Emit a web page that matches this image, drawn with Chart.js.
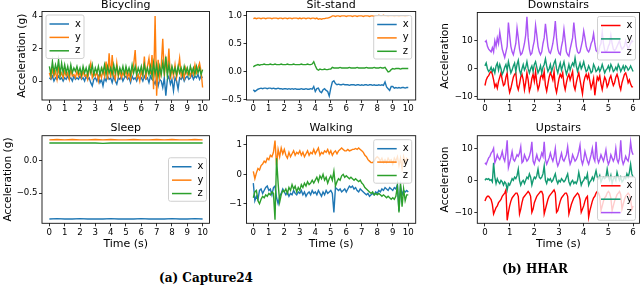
<!DOCTYPE html>
<html><head><meta charset="utf-8">
<script src="https://cdn.jsdelivr.net/npm/chart.js@4/dist/chart.umd.min.js"></script>
<style>
html,body{margin:0;padding:0;background:#fff;width:640px;height:287px;overflow:hidden;position:relative;}
canvas{position:absolute;}
.cap{position:absolute;width:200px;text-align:center;font:bold 12px "DejaVu Serif";line-height:14px;color:#000;}
</style></head><body>
<canvas id="c1"></canvas><canvas id="c2"></canvas><canvas id="c3"></canvas>
<canvas id="c4"></canvas><canvas id="c5"></canvas><canvas id="c6"></canvas>
<div class="cap" style="left:106px;top:271px">(a) Capture24</div>
<div class="cap" style="left:435px;top:262px">(b) HHAR</div>
<script>
// ---------- data ----------
const capTimes = Array.from({length:101},(_,i)=>i/10);   // 0..10 s
const hharTimes = Array.from({length:121},(_,i)=>i/20);  // 0..6 s
const sleepTimes = Array.from({length:21},(_,i)=>i/2);   // 0..10 s

const bicX = [0.2,0.1,0.3,0.0,0.2,0.1,0.3,0.1,0.2,0.0, 0.2,0.1,0.3,0.1,0.2,0.0,0.3,0.1,0.2,0.1, 0.3,0.1,0.2,0.0,0.3,0.1,0.2,-0.1,-0.3,0.1, 0.2,0.0,0.3,-0.1,0.1,-0.3,0.2,0.0,0.3,0.1, 0.2,-0.1,0.3,0.0,-0.2,0.2,0.1,0.3,0.0,0.2, 0.3,0.1,0.2,-0.1,0.3,0.1,0.2,0.0,0.3,0.1, 0.2,0.0,0.3,0.1,0.2,-0.1,0.3,0.1,0.0,-0.2, 0.2,-0.3,0.1,0.0,-0.4,0.2,-0.9,0.1,0.3,-0.2, 0.1,-0.6,0.2,0.0,-0.5,0.2,0.1,0.3,0.0,0.2, 0.3,0.1,0.2,0.4,0.1,0.3,0.2,0.4,0.1,0.3,0.2];
const bicY = [0.5,0.2,0.7,0.3,0.6,0.1,0.8,0.3,0.5,0.2, 0.6,0.3,0.5,0.1,0.7,0.3,0.4,0.2,0.6,0.3, 0.5,0.2,0.6,0.3,0.4,0.1,0.7,1.1,0.2,0.5, 0.3,0.6,0.0,0.5,0.2,0.7,0.3,1.2,0.1,1.7, 0.2,1.6,0.4,0.1,1.1,0.3,0.6,0.2,0.5,0.3, 0.7,0.2,0.5,0.1,0.6,1.0,1.9,0.2,0.4,0.0, 0.6,0.3,1.5,0.1,0.9,1.4,0.4,1.6,-0.5,4.0, -0.9,1.3,0.2,0.9,2.6,0.3,1.3,0.5,2.0,0.1, 0.8,0.3,1.0,0.2,0.7,1.4,0.3,0.6,0.2,0.8, 0.4,0.6,0.3,0.7,0.4,1.0,0.5,0.8,1.1,0.6,-0.4];
const bicZ = [0.9,0.4,1.2,0.5,1.0,0.6,1.3,0.4,1.1,0.5, 1.0,0.5,0.9,0.4,1.0,0.5,0.8,0.6,0.9,0.5, 0.8,0.4,0.9,0.5,0.8,0.4,0.9,0.5,1.0,0.4, 0.8,0.5,0.9,0.4,0.8,0.5,1.0,0.4,0.9,0.5, 0.8,0.4,1.0,0.5,0.9,0.4,0.8,0.5,0.9,0.4, 0.9,0.5,0.8,0.4,1.0,0.5,0.9,0.4,0.8,0.5, 0.9,0.4,1.0,0.5,0.8,0.4,0.9,0.3,1.1,0.4, 1.0,0.3,0.9,0.4,1.1,0.5,1.5,0.3,1.0,0.4, 0.9,0.5,0.8,0.4,0.9,0.5,0.8,0.4,0.9,0.5, 0.8,0.4,0.9,0.5,0.8,0.4,0.9,0.5,0.8,0.4,0.7];

const sitX = [-.33,-.36,-.34,-.32,-.31,-.30,-.31,-.30,-.30,-.31, -.30,-.30,-.31,-.30,-.31,-.31,-.30,-.31,-.31,-.32, -.31,-.31,-.32,-.31,-.32,-.31,-.32,-.31,-.32,-.32, -.32,-.31,-.32,-.32,-.31,-.32,-.32,-.31,-.32,-.27, -.36,-.31,-.30,-.36,-.38,-.33,-.31,-.34,-.36,-.44, -.30,-.19,-.17,-.22,-.24,-.23,-.24,-.24,-.23,-.24, -.24,-.24,-.25,-.24,-.24,-.24,-.25,-.24,-.24,-.25, -.24,-.25,-.24,-.24,-.25,-.24,-.24,-.25,-.24,-.25, -.25,-.24,-.25,-.24,-.25,-.19,-.28,-.31,-.34,-.27, -.27,-.30,-.29,-.30,-.29,-.30,-.29,-.29,-.30,-.29,-.29];
const sitY = [.94,.95,.94,.95,.95,.94,.95,.95,.94,.95, .95,.95,.94,.95,.95,.95,.94,.95,.95,.94, .95,.95,.94,.95,.95,.94,.95,.95,.95,.94, .95,.94,.95,.95,.94,.95,.95,.94,.95,.95, .94,.95,.93,.94,.93,.94,.94,.95,.95,.96, .97,.99,.99,.98,.99,.99,.98,.99,.99,.99, .98,.99,.99,.99,.98,.99,.99,.98,.99,.99, .99,.98,.99,.99,.99,.98,.99,.99,.98,.99, .99,1.0,.99,.99,1.0,.99,.99,.98,.99,.99, .99,.98,.99,.99,.98,.99,.99,.99,.98,.99,.99];
const sitZ = [.08,.10,.11,.12,.11,.12,.12,.13,.12,.12, .12,.13,.12,.12,.13,.12,.12,.12,.13,.12, .12,.12,.13,.12,.12,.12,.13,.12,.12,.12, .12,.13,.12,.12,.12,.13,.12,.12,.13,.17, .10,.04,.02,.04,.03,.03,.04,.03,.03,.04, .04,.07,.06,.06,.06,.06,.07,.06,.06,.06, .06,.06,.07,.06,.06,.06,.06,.07,.06,.06, .06,.06,.06,.07,.06,.06,.06,.06,.07,.06, .06,.06,.07,.06,.06,.07,.03,-.01,.00,.03, .05,.04,.05,.05,.05,.04,.05,.05,.05,.05,.05];

const sleepX = [-.905,-.90,-.905,-.905,-.90,-.905,-.905,-.905,-.90,-.905,-.905,-.905,-.90,-.905,-.905,-.905,-.90,-.905,-.905,-.90,-.905];
const sleepY = [.33,.335,.33,.335,.33,.33,.335,.33,.335,.33,.33,.335,.33,.33,.335,.33,.335,.33,.33,.335,.33];
const sleepZ = [.28,.28,.28,.28,.28,.28,.28,.275,.28,.28,.28,.28,.28,.28,.28,.28,.28,.28,.28,.28,.28];

const walkX = [-0.3,-0.9,-0.75,-0.85,-0.55,-0.5,-0.65,-0.55,-0.45,-0.4, -0.55,-0.5,-0.7,-0.45,-0.4,-0.8,-1.0,-0.75,-0.65,-0.5, -0.6,-0.7,-0.6,-0.75,-0.65,-0.7,-0.55,-0.65,-0.7,-0.6, -0.65,-0.55,-0.7,-0.6,-0.75,-0.65,-0.6,-0.7,-0.55,-0.65, -0.6,-0.7,-0.55,-0.65,-0.75,-0.6,-0.7,-0.55,-0.65,-0.6, -0.55,-0.65,-1.3,-0.45,-0.5,-0.55,-0.5,-0.6,-0.55,-0.5, -0.6,-0.5,-0.4,-0.45,-0.4,-0.5,-0.45,-0.55,-0.6,-0.5, -0.55,-0.6,-0.65,-0.7,-0.65,-0.75,-0.7,-0.65,-0.7,-0.6, -0.65,-0.55,-0.6,-0.5,-0.55,-0.45,-0.5,-0.55,-0.45,-0.5, -0.55,-0.45,-0.5,-0.35,-1.25,-0.4,-0.7,-0.55,-0.6,-0.55, -0.6];
const walkY = [0.1,-0.15,0.05,0.2,0.15,0.3,0.35,0.45,0.4,0.55, 0.5,0.65,0.6,0.75,1.15,0.3,0.85,0.6,0.9,0.7, 0.85,0.65,0.55,0.75,0.6,0.7,0.8,0.65,0.75,0.7, 0.8,0.65,0.75,0.6,0.7,0.8,0.65,0.75,0.7,0.85, 0.7,0.8,0.9,0.65,0.75,0.7,0.8,0.75,0.85,0.7, 0.8,0.65,0.75,0.8,0.7,0.8,0.85,0.9,0.85,0.8, 0.8,0.85,0.8,0.82,0.85,0.85,0.88,0.85,0.9,0.85, 0.8,0.75,0.65,0.6,0.5,0.45,0.4,0.4,0.45,0.55, 0.6,0.55,0.45,0.55,0.4,0.5,0.4,0.55,0.45,0.5, 0.35,0.55,0.45,0.6,0.3,0.55,0.2,0.6,0.4,0.55, 0.5];
const walkZ = [-0.8,-0.6,-0.55,-0.9,-1.0,-0.85,-0.75,-0.8,-0.7,-0.75, -0.65,-0.7,-0.6,-0.65,-1.55,0.55,-0.3,-0.95,-0.7,-0.55, -0.6,-0.5,-0.65,-0.45,-0.55,-0.35,-0.5,-0.4,-0.6,-0.45, -0.55,-0.35,-0.45,-0.3,-0.4,-0.25,-0.35,-0.3,-0.2,-0.3, -0.2,-0.1,-0.25,-0.05,-0.15,0.0,-0.2,-0.1,-0.3,-0.15, -0.05,-0.2,0.1,-0.4,-0.25,-0.15,-0.2,-0.05,0.0,-0.1, -0.05,-0.1,-0.15,-0.1,-0.15,-0.2,-0.15,-0.2,-0.25,-0.2, -0.3,-0.35,-0.45,-0.5,-0.55,-0.6,-0.65,-0.6,-0.7,-0.65, -0.7,-0.65,-0.7,-0.75,-0.7,-0.75,-0.8,-0.75,-0.8,-0.85, -0.8,-0.85,-0.75,-0.4,-1.3,-0.3,-1.1,-0.5,-0.9,-0.7, -0.7];

const downX = [-6,-4,-3,-2.5,-1.5,-1,-2,-4,-6.5,-5.5, -7,-4.5,-3,-1.5,-4,-6,-5.5,-3,-1.5,-6, -8.5,-7,-5,-3,-2,-1.5,-6,-7.5,-5.5,-3, -2,-4,-7.5,-5,-1.5,-4,-8,-6.5,-3.5,-2, -4.5,-1,-5,-7.5,-6,-3,-2,-3.5,-1,-6, -8,-5.5,-3,-1.5,-2.5,-4,-1,-6.5,-8.5,-6, -3.5,-2,-3,-1.5,-5.5,-7.5,-5,-3,-2,-4, -2.5,-1,-6,-7.5,-5,-3,-1.5,-4,-6.5,-9, -5,-3,-2,-3.5,-2,-4.5,-7,-5.5,-3.5,-9.5, -6,-3,-4,-2.5,-5.5,-7.5,-5,-3,-4,-6.5, -5.5,-3.5,-2.5,-4.5,-6,-5,-3,-2,-3.5,-6, -7.5,-5,-3.5,-2,-1.5,-3,-5,-4,-5.5,-6.5, -6.5];
const downY = [1,2,0,-1,-0.5,0.5,-1,0,-1.5,1, 2,-0.5,1.5,0,-2,-1,0.5,1.5,-0.5,2.5, 0.5,-1.5,-0.5,1,2,-1,1.5,3,-0.5,-2, 0,1.5,-0.5,0.5,2.5,0,-1.5,0,1,-1, 1.5,2.5,0.5,-1.5,-0.5,1,-1.5,0.5,1.5,3.5, 1,-1,0,1.5,-1,0.5,2,3,0,-1.5, 0.5,2,-0.5,1,2.5,0,-2,-0.5,1.5,-0.5, 1,2,1,3.8,1,-1,0.5,2,0,1, 2.5,0.5,-1,-0.5,1,0,-1.5,-1,1.5,0.5, -1,-0.5,0.5,-1,0,1.5,0,-1.5,-0.5,0, 1,-0.5,1.5,0.5,-1,-0.5,0.5,-0.5,1.5,0.5, -1,0,1,-0.5,1,0.5,-0.5,0,1,0, -1];
const downZ = [9.5,10,8,7,6.5,6,7.5,6,10,8, 11,9,13,10,7,5.5,4,6,8,16.5, 12,8,6,5,7,9,14.5,11,7,5, 5.5,7,9,12,18.5,11,7,5,5.5,8, 10,15.5,12,8,6,5,6,9,11,16, 12,8,6,5.5,7,9,12,17,11,7, 5.5,5,8,10,14,10,6,5,4.5,7, 9,11,16.5,12,8,6,5.5,6,8,10, 13.5,11,8,6.5,6,7,9,10,12.5,9, 6.5,6,5.5,8,9,13,9,6.5,6,6.5, 8,9,12,9,7,6.5,7,8,9,10, 8,7,7.5,8,10,8.5,7,8,9,10, 9.5];

const upX = [-6.5,-5.5,-5,-5,-5.5,-6,-7.5,-10.5,-9.5,-8.5, -8,-7,-6.5,-6,-5,-4.5,-4,-3,-12.5,-10, -8,-6.5,-5.5,-5,-4.5,-4,-4,-5,-10.5,-9, -7,-5.5,-5,-4.5,-4,-3.5,-4,-5,-10,-9, -7,-6,-5,-4.5,-4,-3.5,-3.5,-4.5,-10.5,-9, -7.5,-6,-5,-4.5,-4,-3.5,-3,-4,-10,-9.5, -8,-6.5,-5.5,-5,-4.5,-4,-4,-5,-10.5,-9, -7.5,-6.5,-5.5,-5,-4.5,-4,-4.5,-6,-10,-9, -8,-6.5,-5.5,-5,-11.5,-9.5,-8,-6.5,-5.5,-5, -4,-3.5,-4,-5,-9.5,-8,-6.5,-5.5,-5,-4, -3.5,-4,-5.5,-9.5,-8,-6.5,-5.5,-4.5,-4,-3.5, -4.5,-9,-7.5,-6,-5,-4.5,-4,-4.5,-6,-9, -8];
const upY = [0,0.5,0.3,0.5,0,0.2,-0.5,5.5,1,-1, 0.5,-0.5,-1,0,-0.5,-1.5,-0.5,-1,-3,-1, -1.5,-0.5,0.5,0,1,0.5,1.5,3.5,0,-1.5, -0.5,0,-1,0,1,0.5,2,1,-1.5,0, 1,0.5,1.5,3.5,1,0.5,1,2,4.5,0, -1,0.5,0,0.5,-0.5,0,1,2,0,-1, 0,-0.5,0.5,0,-0.5,0,1,2,-0.5,-1.5, -0.5,0,-1,-0.5,-1,0,2.5,0.5,-1.5,-0.5, 0,1,0.5,2,-1.5,-0.5,0,1,0,1.5, 3,1,0.5,1.5,-0.5,0.5,1,0.5,1,3.5, 1,0,1.5,-1,0.5,1,0,2.5,1,0, 1,-0.5,0,1,0.5,2,1,2.5,5,2, 1];
const upZ = [5.5,5,6,7,7.5,8.5,9,10,5.5,6.5, 8,7,6.5,7.5,9,7,6,8.5,12.5,4, 5.5,7,9,6.5,6,7,8,7.5,8.5,10.5, 5.5,6,8,7,6,6.5,7.5,9,12,6, 5,6.5,8,6.5,6,7,8.5,7.5,12,6.5, 5,6,7,8.5,7,6,7.5,10,6,4.5, 5.5,7,8.5,6.5,6,7,8,10.5,7,5, 6,8,7,6,6.5,7.5,9,11,6.5,5, 6.5,9,7.5,6,5,6.5,8,10,7,6, 12,7,5.5,6.5,8,7,6,7.5,9.5,6.5, 5,6,8,7,6,7,10,6.5,5.5,7, 12.5,6.5,5,6,7.5,6.5,6,8,12,9, 8];

const capXTicks = [0,1,2,3,4,5,6,7,8,9,10];
const capXLabels = ['0','1','2','3','4','5','6','7','8','9','10'];
const hharXTicks = [0,1,2,3,4,5,6];
const hharXLabels = ['0','1','2','3','4','5','6'];
const bicYTicks = [0,2,4], bicYLabels = ['0','2','4'];
const sitYTicks = [-0.5,0,0.5,1], sitYLabels = ['\u22120.5','0.0','0.5','1.0'];
const sleepYTicks = [-0.5,0], sleepYLabels = ['\u22120.5','0.0'];
const walkYTicks = [-1,0,1], walkYLabels = ['\u22121','0','1'];
const hharYTicks = [-10,0,10], hharYLabels = ['\u221210','0','10'];
const seriesNames = ['x','y','z'];
const capColors = ['#1f77b4','#ff7f0e','#2ca02c'];
const hharColors = ['#ff0000','#139a72','#aa55f5'];

// ---------- rendering ----------
const FONT = 'DejaVu Sans';
const TICK = 8.6;
const YT_SIZE = 10.6, YT_LH = YT_SIZE*1.2;
const XT_SIZE = 11, XT_LH = XT_SIZE*1.2;
Chart.defaults.font.family = FONT;
Chart.defaults.color = '#000';

const innerLegend = {
  id:'innerLegend',
  afterDatasetsDraw(chart, args, opts){
    const ctx = chart.ctx, ca = chart.chartArea;
    ctx.save();
    ctx.strokeStyle = '#111'; ctx.lineWidth = 0.9;
    ctx.strokeRect(ca.left, ca.top, ca.right-ca.left, ca.bottom-ca.top);
    const w = 38, h = 43.5;
    let x, y;
    if (opts.corner==='ul'){ x = ca.left+4; y = ca.top+3.5; }
    else if (opts.corner==='ur'){ x = ca.right-4-w; y = ca.top+4; }
    else if (opts.corner==='cr'){ x = ca.right-3-w; y = (ca.top+ca.bottom)/2-h/2; }
    else { x = ca.right-4-w; y = ca.bottom-3-h; }
    const r = 2;
    ctx.beginPath();
    ctx.moveTo(x+r,y); ctx.lineTo(x+w-r,y); ctx.arcTo(x+w,y,x+w,y+r,r);
    ctx.lineTo(x+w,y+h-r); ctx.arcTo(x+w,y+h,x+w-r,y+h,r);
    ctx.lineTo(x+r,y+h); ctx.arcTo(x,y+h,x,y+h-r,r);
    ctx.lineTo(x,y+r); ctx.arcTo(x,y,x+r,y,r); ctx.closePath();
    ctx.fillStyle = 'rgba(255,255,255,0.8)'; ctx.fill();
    ctx.strokeStyle = '#d0d0d0'; ctx.lineWidth = 1; ctx.stroke();
    ctx.font = '10px "DejaVu Sans"'; ctx.textBaseline = 'middle'; ctx.textAlign = 'left';
    chart.data.datasets.forEach((ds,i)=>{
      const ry = y + 9 + i*13.4;
      ctx.strokeStyle = ds.borderColor; ctx.lineWidth = 1.5;
      ctx.beginPath(); ctx.moveTo(x+3.5, ry); ctx.lineTo(x+23, ry); ctx.stroke();
      ctx.fillStyle = '#000'; ctx.fillText(ds.label, x+29, ry);
    });
    ctx.restore();
  }
};

function panel(id, o){
  const cv = document.getElementById(id);
  const hasYT = o.yTitle != null;
  const desiredLeft = hasYT ? o.yTitleCenter - YT_LH/2 : o.box.l - 30;
  const cl = Math.floor(desiredLeft);
  const yTitlePadTop = desiredLeft - cl;
  const ct = Math.floor(o.titleCenter - 5.5);
  const titlePadTop = o.titleCenter - 5.5 - ct;
  const titlePadBottom = o.box.t - ct - 11 - titlePadTop;
  const padL = o.box.l - cl;
  const plotW = o.box.r - o.box.l, plotH = o.box.b - o.box.t;
  const W = Math.ceil(padL + plotW + 8);
  const padR = W - padL - plotW;
  const hasXT = o.xTitle != null;
  const wantB = hasXT ? (o.xTitleCenter + XT_LH/2 - o.box.b) : 16;
  const H = Math.ceil(o.box.t - ct + plotH + wantB);
  const padB = H - (o.box.t - ct) - plotH;
  const xTitlePadBottom = hasXT ? (ct + H - o.xTitleCenter - XT_LH/2) : 0;
  cv.width = W; cv.height = H;
  cv.style.left = cl+'px'; cv.style.top = ct+'px';
  cv.style.width = W+'px'; cv.style.height = H+'px';
  const orders = [2,1,0];
  const datasets = o.series.map((vals,i)=>({
    label: seriesNames[i],
    data: vals.map((v,k)=>({x:o.times[k], y:v})),
    borderColor: o.colors[i], borderWidth: 1.4, pointRadius: 0, tension: 0,
    fill: false, order: orders[i]
  }));
  new Chart(cv, {
    type:'line',
    data:{datasets},
    plugins:[innerLegend],
    options:{
      responsive:false, animation:false, devicePixelRatio:1,
      layout:{padding:{left:0, top:0, right:padR, bottom:0}},
      plugins:{
        legend:{display:false}, tooltip:{enabled:false},
        title:{display:true, text:o.title, fullSize:false, color:'#000',
          font:{family:FONT, size:11, lineHeight:1, weight:'normal'},
          padding:{top:titlePadTop, bottom:titlePadBottom}},
        innerLegend:{corner:o.legend}
      },
      scales:{
        x:{type:'linear', min:o.xMin, max:o.xMax,
          afterBuildTicks:s=>{ s.ticks = o.xTicks.map(v=>({value:v})); },
          afterFit:s=>{ s.height = padB; },
          ticks:{callback:(v,i)=>o.xLabels[i], autoSkip:false, maxRotation:0, minRotation:0,
            padding:1, color:'#000', font:{family:FONT, size:TICK}},
          grid:{display:true, drawOnChartArea:false, drawTicks:true, tickLength:3, color:'#000', lineWidth:0.8},
          border:{display:false},
          title:{display:hasXT, text:o.xTitle||'', color:'#000',
            font:{family:FONT, size:XT_SIZE, lineHeight:1.2}, padding:{top:0, bottom:xTitlePadBottom}}
        },
        y:{type:'linear', min:o.yMin, max:o.yMax,
          afterBuildTicks:s=>{ s.ticks = o.yTicks.map(v=>({value:v})); },
          afterFit:s=>{ s.width = padL; },
          ticks:{callback:(v,i)=>o.yLabels[i], autoSkip:false, padding:1.5, color:'#000',
            font:{family:FONT, size:TICK}},
          grid:{display:true, drawOnChartArea:false, drawTicks:true, tickLength:3, color:'#000', lineWidth:0.8},
          border:{display:false},
          title:{display:hasYT, text:o.yTitle||'', color:'#000',
            font:{family:FONT, size:YT_SIZE, lineHeight:1.2}, padding:{top:yTitlePadTop, bottom:0}}
        }
      }
    }
  });
}

panel('c1', {title:'Bicycling', titleCenter:5, box:{l:42,t:11.5,r:209.5,b:100},
  times:capTimes, series:[bicX,bicY,bicZ], colors:capColors,
  xMin:-0.48, xMax:10.45, xTicks:capXTicks, xLabels:capXLabels,
  yMin:-1.17, yMax:4.28, yTicks:bicYTicks, yLabels:bicYLabels,
  yTitle:'Acceleration (g)', yTitleCenter:22.7, legend:'ul'});
panel('c2', {title:'Sit-stand', titleCenter:5, box:{l:246.5,t:11.5,r:415.7,b:100},
  times:capTimes, series:[sitX,sitY,sitZ], colors:capColors,
  xMin:-0.44, xMax:10.48, xTicks:capXTicks, xLabels:capXLabels,
  yMin:-0.512, yMax:1.068, yTicks:sitYTicks, yLabels:sitYLabels, legend:'ur'});
panel('c3', {title:'Downstairs', titleCenter:5, box:{l:477.3,t:12.5,r:639.5,b:99.3},
  times:hharTimes, series:[downX,downY,downZ], colors:hharColors,
  xMin:-0.31, xMax:6.26, xTicks:hharXTicks, xLabels:hharXLabels,
  yMin:-10.93, yMax:20.07, yTicks:hharYTicks, yLabels:hharYLabels,
  yTitle:'Acceleration', yTitleCenter:445.7, legend:'ur'});
panel('c4', {title:'Sleep', titleCenter:128, box:{l:42,t:135.7,r:209.5,b:223.3},
  times:sleepTimes, series:[sleepX,sleepY,sleepZ], colors:capColors,
  xMin:-0.48, xMax:10.45, xTicks:capXTicks, xLabels:capXLabels,
  yMin:-0.973, yMax:0.395, yTicks:sleepYTicks, yLabels:sleepYLabels,
  yTitle:'Acceleration (g)', yTitleCenter:8.3, xTitle:'Time (s)', xTitleCenter:244.6, legend:'cr'});
panel('c5', {title:'Walking', titleCenter:128, box:{l:246.5,t:135.7,r:415.7,b:223.3},
  times:capTimes, series:[walkX,walkY,walkZ], colors:capColors,
  xMin:-0.44, xMax:10.48, xTicks:capXTicks, xLabels:capXLabels,
  yMin:-1.67, yMax:1.317, yTicks:walkYTicks, yLabels:walkYLabels,
  xTitle:'Time (s)', xTitleCenter:244.6, legend:'ur'});
panel('c6', {title:'Upstairs', titleCenter:128, box:{l:477.3,t:135.7,r:639.5,b:223.3},
  times:hharTimes, series:[upX,upY,upZ], colors:hharColors,
  xMin:-0.31, xMax:6.26, xTicks:hharXTicks, xLabels:hharXLabels,
  yMin:-13.44, yMax:13.94, yTicks:hharYTicks, yLabels:hharYLabels,
  yTitle:'Acceleration', yTitleCenter:445.7, xTitle:'Time (s)', xTitleCenter:244.6, legend:'lr'});
</script></body></html>
